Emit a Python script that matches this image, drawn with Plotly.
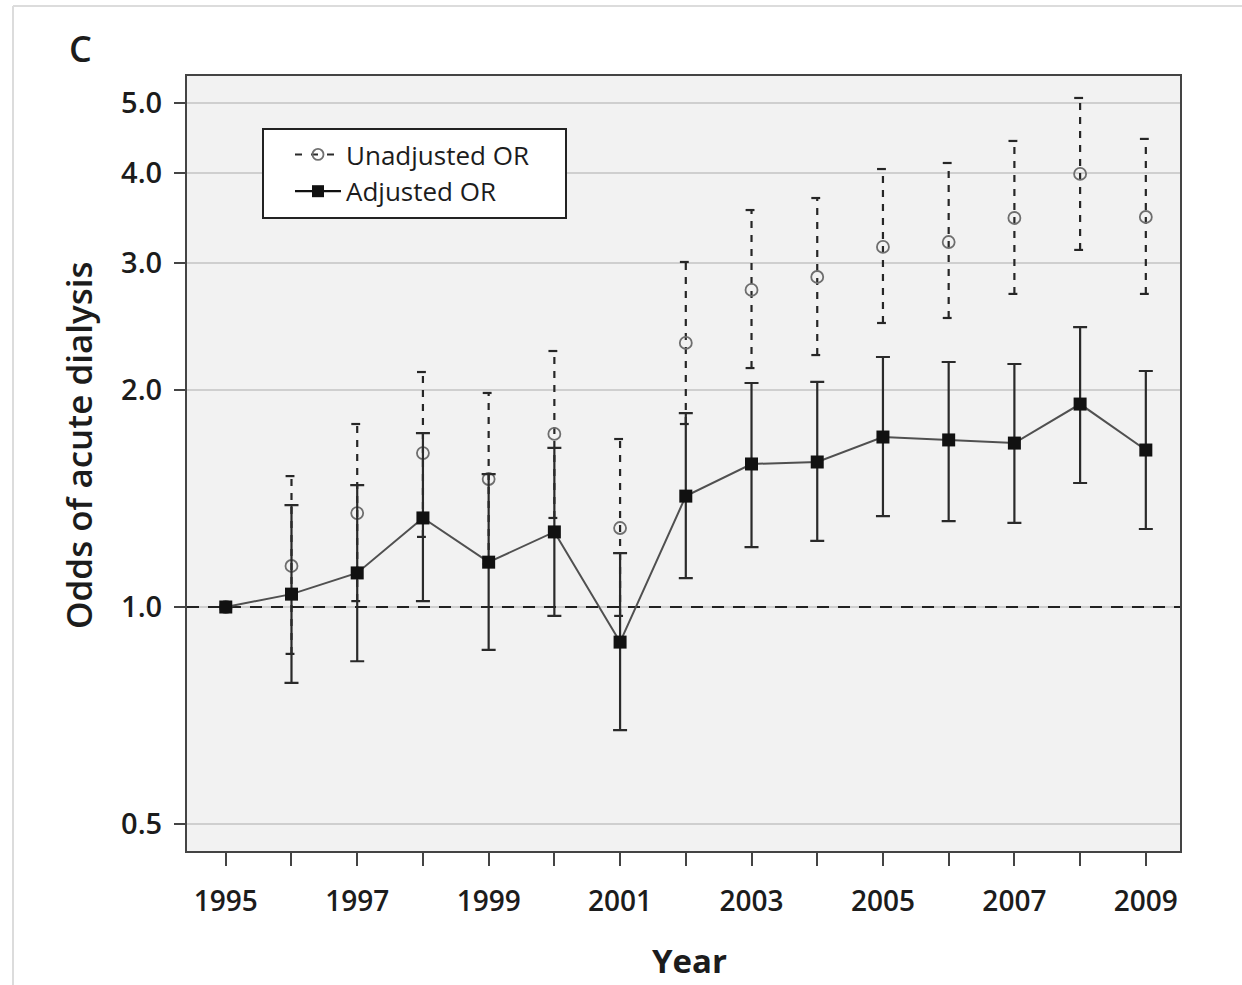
import math
import plotly.graph_objects as go

# ---------------- data ----------------
years = list(range(1995, 2010))
year_labels = [str(y) if (y - 1995) % 2 == 0 else "" for y in years]

adj_or = [1.000, 1.042, 1.115, 1.329, 1.154, 1.271, 0.894, 1.425, 1.579, 1.589, 1.721, 1.705, 1.688, 1.912, 1.651]
adj_lo = [1.000, 0.785, 0.841, 1.019, 0.872, 0.972, 0.675, 1.097, 1.211, 1.235, 1.337, 1.316, 1.308, 1.486, 1.283]
adj_hi = [1.000, 1.385, 1.476, 1.743, 1.529, 1.662, 1.188, 1.858, 2.045, 2.052, 2.222, 2.187, 2.173, 2.445, 2.125]

unadj_or = [1.000, 1.140, 1.350, 1.635, 1.505, 1.738, 1.287, 2.324, 2.753, 2.869, 3.158, 3.208, 3.464, 3.987, 3.475]
unadj_lo = [None, 0.861, 1.019, 1.251, 1.147, 1.329, 0.972, 1.794, 2.145, 2.236, 2.477, 2.517, 2.718, 3.128, 2.718]
unadj_hi = [None, 1.519, 1.794, 2.118, 1.981, 2.265, 1.710, 3.010, 3.553, 3.692, 4.050, 4.129, 4.430, 5.082, 4.459]

y_ticks = [0.5, 1.0, 2.0, 3.0, 4.0, 5.0]
y_tick_text = ["0.5", "1.0", "2.0", "3.0", "4.0", "5.0"]
ref_or = 1.0

# ---------------- style ----------------
FONT = "Open Sans, DejaVu Sans, sans-serif"
TXT = "#1c1c1c"
X_RANGE = [1994.41, 2009.52]
Y_RANGE = [-0.3384, 0.7365]
CAP_L, CAP_R = 0.09, 0.045
PW, PH, PL, PB = 993, 775, 187, 851   # plot area geometry in pixels


def px(xp):
    return (xp - PL) / PW


def py(yp):
    return (PB - yp) / PH


fig = go.Figure()

# reference line at OR = 1
fig.add_trace(go.Scatter(
    x=X_RANGE, y=[ref_or, ref_or], mode="lines",
    line=dict(color="#222222", width=2, dash="12px,9px"),
    hoverinfo="skip", showlegend=False))

# unadjusted: dashed CI bars
vx, vy, cx, cy = [], [], [], []
for yr, lo, hi in zip(years, unadj_lo, unadj_hi):
    if lo is None:
        continue
    vx += [yr, yr, None]
    vy += [lo, hi, None]
    for v in (lo, hi):
        cx += [yr - CAP_L, yr + CAP_R, None]
        cy += [v, v, None]
fig.add_trace(go.Scatter(x=vx, y=vy, mode="lines",
                         line=dict(color="#262626", width=2.2, dash="7px,7px"),
                         hoverinfo="skip", showlegend=False))
fig.add_trace(go.Scatter(x=cx, y=cy, mode="lines",
                         line=dict(color="#262626", width=2.2),
                         hoverinfo="skip", showlegend=False))
fig.add_trace(go.Scatter(x=years, y=unadj_or, mode="markers",
                         marker=dict(symbol="circle-open", size=12, color="#6e6e6e",
                                     line=dict(width=1.8, color="#6e6e6e")),
                         showlegend=False, name="Unadjusted OR"))

# adjusted: line + squares + solid CI bars
fig.add_trace(go.Scatter(
    x=years, y=adj_or, mode="lines+markers",
    line=dict(color="#505050", width=2),
    marker=dict(symbol="square", size=13, color="#111111"),
    error_y=dict(type="data", symmetric=False,
                 array=[h - m for h, m in zip(adj_hi, adj_or)],
                 arrayminus=[m - l for m, l in zip(adj_or, adj_lo)],
                 color="#2a2a2a", thickness=2.2, width=7),
    showlegend=False, name="Adjusted OR"))

# legend entries
fig.add_trace(go.Scatter(x=[None], y=[None], mode="lines+markers", name="Unadjusted OR",
                         line=dict(color="#2a2a2a", width=2, dash="7px,9px"),
                         marker=dict(symbol="circle-open", size=11, color="#707070",
                                     line=dict(width=1.8, color="#707070"))))
fig.add_trace(go.Scatter(x=[None], y=[None], mode="lines+markers", name="Adjusted OR",
                         line=dict(color="#111111", width=2.2),
                         marker=dict(symbol="square", size=12, color="#111111")))

fig.update_layout(
    width=1242, height=985,
    margin=dict(l=PL, r=1242 - PL - PW, t=PB - PH, b=985 - PB),
    paper_bgcolor="white", plot_bgcolor="#f2f2f2",
    font=dict(family=FONT, color=TXT),
    legend=dict(x=px(290), y=py(131), xanchor="left", yanchor="top",
                bgcolor="rgba(0,0,0,0)", borderwidth=0,
                font=dict(size=26, family=FONT, color=TXT), itemwidth=46,
                traceorder="normal"),
    xaxis=dict(range=X_RANGE, tickmode="array", tickvals=years, ticktext=year_labels,
               ticks="outside", ticklen=13, tickwidth=2, tickcolor="#444444",
               showgrid=False, zeroline=False, showline=True, mirror=True,
               linecolor="#444444", linewidth=2,
               tickfont=dict(size=28, family=FONT, color=TXT, weight=600),
               ticklabelstandoff=11),
    yaxis=dict(type="log", range=Y_RANGE, tickmode="array", tickvals=y_ticks,
               ticktext=y_tick_text, ticks="outside", ticklen=11, tickwidth=2,
               tickcolor="#444444", showgrid=True, gridcolor="#cfcfcf", gridwidth=1.5,
               zeroline=False, showline=True, mirror=True,
               linecolor="#444444", linewidth=2,
               tickfont=dict(size=29, family=FONT, color=TXT, weight=600),
               ticklabelstandoff=6),
    annotations=[
        dict(text="Year", xref="paper", yref="paper", x=px(689),
             y=py(960), xanchor="center", yanchor="middle", showarrow=False,
             font=dict(size=33, family=FONT, color=TXT, weight=700)),
        dict(text="Odds of acute dialysis", xref="paper", yref="paper",
             x=px(79), y=py(445), textangle=-90,
             xanchor="center", yanchor="middle", showarrow=False,
             font=dict(size=35, family=FONT, color=TXT, weight=600)),
        dict(text="C", xref="paper", yref="paper", x=px(80),
             y=py(48), xanchor="center", yanchor="middle", showarrow=False,
             font=dict(size=36, family=FONT, color=TXT, weight=600)),
    ],
    shapes=[
        # legend frame
        dict(type="rect", xref="paper", yref="paper", x0=px(263), x1=px(566),
             y0=py(129), y1=py(218), fillcolor="white", layer="above",
             line=dict(color="#222222", width=2)),
        # outer image frame (top and left)
        dict(type="line", xref="paper", yref="paper", x0=px(13), x1=px(1242),
             y0=py(6), y1=py(6), line=dict(color="#dcdcdc", width=2)),
        dict(type="line", xref="paper", yref="paper", x0=px(13), x1=px(13),
             y0=py(6), y1=py(985), line=dict(color="#dcdcdc", width=2)),
    ],
)

fig.write_html("out.html")
